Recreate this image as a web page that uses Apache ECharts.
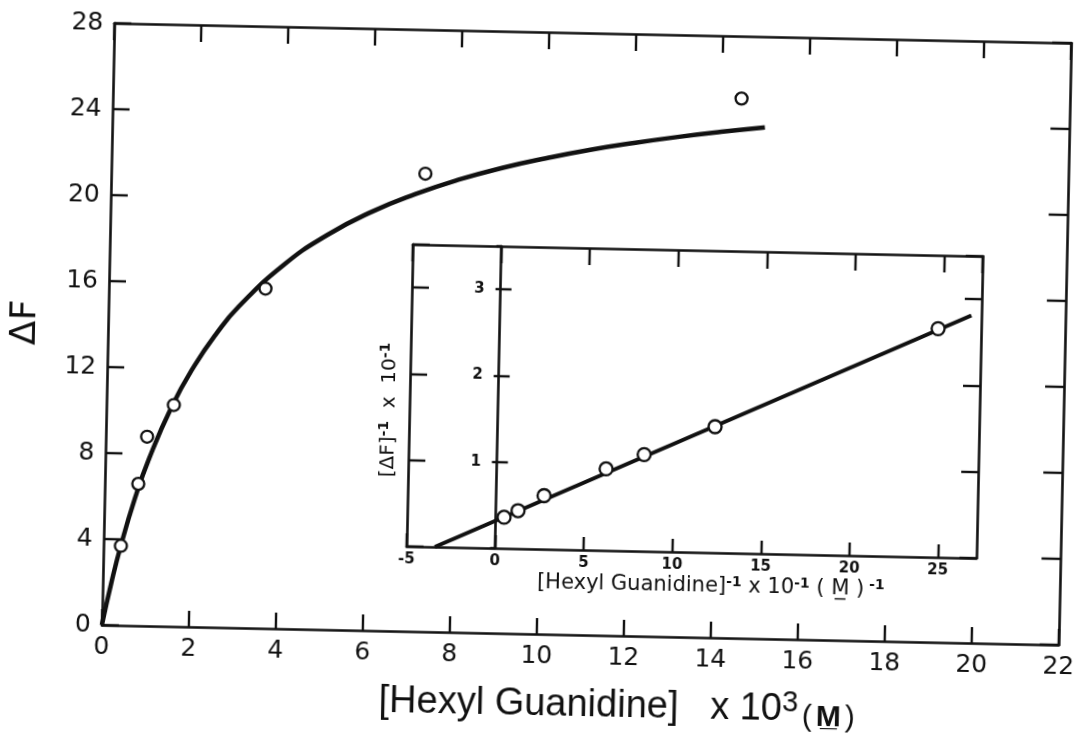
<!DOCTYPE html>
<html>
<head>
<meta charset="utf-8">
<script src="https://cdn.jsdelivr.net/npm/echarts@6/dist/echarts.min.js"></script>
<style>
  html, body { margin: 0; padding: 0; background: #fff; overflow: hidden; }
  #chart { width: 1084px; height: 733px; transform: rotate(1.19deg); transform-origin: 586px 334px; }
</style>
</head>
<body>
<div id="chart"></div>
<script>
// Fluorescence change on titration with hexyl guanidine (concentration x 10^3 M)
const hexylConc = [0.40, 0.77, 0.95, 1.55, 3.6, 7.22, 14.45];
const deltaF    = [3.7, 6.6, 8.8, 10.3, 15.8, 21.3, 25.1];

// Saturation curve drawn through the titration points
const curveConc   = [0, 0.2, 0.4, 0.7, 1.0, 1.5, 2.0, 2.5, 3.0, 4.0, 5.0, 6.0, 7.0, 8.0, 9.0, 10, 11, 12, 13, 14, 15.0];
const curveDeltaF = [0, 1.99, 3.72, 5.92, 7.75, 10.21, 12.13, 13.68, 14.95, 16.91, 18.36, 19.47, 20.34, 21.06, 21.65, 22.14, 22.57, 22.93, 23.25, 23.53, 23.78];

// Double-reciprocal (inset) plot
const invConc   = [24.74, 12.27, 8.30, 6.17, 2.70, 1.25, 0.47];
const invDeltaF = [2.65, 1.46, 1.12, 0.945, 0.62, 0.44, 0.36];
const invLineX  = [-3.4, 26.6];
const invLineY  = [0.0, 2.81];

// Inset axis ranges
const INSET_X_MIN = -5, INSET_X_MAX = 27.17;
const INSET_Y_MAX = 3.5;

const INK = '#111';
const pairs = (xs, ys) => xs.map((x, i) => [x, ys[i]]);

const insetGrid = { left: 411, top: 248, width: 570, height: 302 };
// shift of the inset's vertical axis from the frame edge to x = 0
const zeroShift = -(0 - INSET_X_MIN) / (INSET_X_MAX - INSET_X_MIN) * insetGrid.width;

const frame = { show: true, onZero: false, lineStyle: { color: INK, width: 2.6 } };
const tickIn = (len) => ({ show: true, inside: true, length: len, lineStyle: { color: INK, width: 2.4 } });
const noLabel = { show: false };
const noSplit = { show: false };

const mainLabel = { color: INK, fontSize: 25, fontFamily: 'DejaVu Sans' };
const insetLabel = { color: INK, fontSize: 15, fontWeight: 'bold', fontFamily: 'DejaVu Sans' };
const supStyle = (size) => ({ fontSize: size, fontFamily: 'DejaVu Sans', fontWeight: 'bold', color: INK, verticalAlign: 'top', lineHeight: size });

const chart = echarts.init(document.getElementById('chart'), null, { renderer: 'canvas' });

chart.setOption({
  backgroundColor: '#fff',
  animation: false,
  grid: [
    { left: 106, top: 33, width: 962, height: 603 },
    insetGrid
  ],
  xAxis: [
    { // main, bottom
      type: 'value', gridIndex: 0, position: 'bottom', min: 0, max: 22, interval: 2,
      axisLine: frame, axisTick: tickIn(16), splitLine: noSplit,
      axisLabel: Object.assign({ margin: 10 }, mainLabel),
      name: '{a|[Hexyl Guanidine]   x 10}{s|3}{m|(}{b|M\u0332}{m|)}',
      nameLocation: 'middle', nameGap: 49,
      nameTextStyle: {
        padding: [0, 0, 0, 80],
        rich: {
          a: { fontSize: 38, fontFamily: 'Liberation Sans', color: INK, lineHeight: 44 },
          s: { fontSize: 29, fontFamily: 'Liberation Sans', color: INK, verticalAlign: 'top', lineHeight: 24 },
          m: { fontSize: 30, fontFamily: 'Liberation Sans', color: INK, verticalAlign: 'bottom', lineHeight: 30, padding: [0, 4, 0, 4] },
          b: { fontSize: 30, fontFamily: 'Liberation Sans', fontWeight: 'bold', color: INK, verticalAlign: 'bottom', lineHeight: 30 }
        }
      }
    },
    { // main, top frame
      type: 'value', gridIndex: 0, position: 'top', min: 0, max: 22, interval: 2,
      axisLine: frame, axisTick: tickIn(17), axisLabel: noLabel, splitLine: noSplit
    },
    { // inset, bottom
      type: 'value', gridIndex: 1, position: 'bottom', min: INSET_X_MIN, max: INSET_X_MAX, interval: 5,
      axisLine: frame, axisTick: tickIn(13), splitLine: noSplit,
      axisLabel: Object.assign({ margin: 6, showMaxLabel: false }, insetLabel),
      name: '[Hexyl Guanidine]{s|-1} x 10{s|-1} ( M\u0332 ){s| -1}',
      nameLocation: 'middle', nameGap: 21,
      nameTextStyle: {
        color: INK, fontSize: 21, fontFamily: 'DejaVu Sans', lineHeight: 24,
        padding: [0, 0, 0, 40],
        rich: { s: supStyle(14) }
      }
    },
    { // inset, top frame
      type: 'value', gridIndex: 1, position: 'top', min: INSET_X_MIN, max: INSET_X_MAX, interval: 5,
      axisLine: frame, axisTick: tickIn(17), axisLabel: noLabel, splitLine: noSplit
    }
  ],
  yAxis: [
    { // main, left
      type: 'value', gridIndex: 0, position: 'left', min: 0, max: 28, interval: 4,
      axisLine: frame, axisTick: tickIn(17), splitLine: noSplit,
      axisLabel: Object.assign({ margin: 11 }, mainLabel),
      name: '\u0394F', nameLocation: 'middle', nameRotate: 90, nameGap: 64,
      nameTextStyle: { color: INK, fontSize: 36, fontFamily: 'DejaVu Sans' }
    },
    { // main, right frame
      type: 'value', gridIndex: 0, position: 'right', min: 0, max: 28, interval: 4,
      axisLine: frame, axisTick: tickIn(19), axisLabel: noLabel, splitLine: noSplit
    },
    { // inset, left frame
      type: 'value', gridIndex: 1, position: 'left', min: 0, max: INSET_Y_MAX, interval: 1,
      axisLine: frame, axisTick: tickIn(17), axisLabel: noLabel, splitLine: noSplit,
      name: '[\u0394F]{s|-1}  x  10{s|-1}', nameLocation: 'middle', nameRotate: 90, nameGap: 8,
      nameTextStyle: {
        color: INK, fontSize: 20, fontFamily: 'DejaVu Sans', lineHeight: 24,
        padding: [0, 30, 0, 0],
        rich: { s: supStyle(14) }
      }
    },
    { // inset, vertical axis through x = 0
      type: 'value', gridIndex: 1, position: 'left', offset: zeroShift, min: 0, max: INSET_Y_MAX, interval: 1,
      axisLine: { show: true, onZero: false, lineStyle: { color: INK, width: 2.6 } },
      axisTick: tickIn(11), splitLine: noSplit,
      axisLabel: Object.assign({ margin: 16, showMinLabel: false, showMaxLabel: false }, insetLabel)
    },
    { // inset, short outer tick stubs on the x = 0 axis
      type: 'value', gridIndex: 1, position: 'left', offset: zeroShift, min: 0, max: INSET_Y_MAX, interval: 1,
      axisLine: { show: false, onZero: false },
      axisTick: { show: true, inside: false, length: 5, lineStyle: { color: INK, width: 2.4 } },
      axisLabel: noLabel, splitLine: noSplit
    },
    { // inset, right frame
      type: 'value', gridIndex: 1, position: 'right', min: 0, max: INSET_Y_MAX, interval: 1,
      axisLine: frame, axisTick: tickIn(17), axisLabel: noLabel, splitLine: noSplit
    }
  ],
  series: [
    {
      type: 'line', xAxisIndex: 0, yAxisIndex: 0, data: pairs(curveConc, curveDeltaF),
      smooth: true, showSymbol: false, lineStyle: { color: INK, width: 4.5 }, z: 2
    },
    {
      type: 'scatter', xAxisIndex: 0, yAxisIndex: 0, data: pairs(hexylConc, deltaF),
      symbol: 'circle', symbolSize: 12,
      itemStyle: { color: '#fff', borderColor: INK, borderWidth: 2.3, opacity: 1 }, z: 3
    },
    {
      type: 'line', xAxisIndex: 2, yAxisIndex: 2, data: pairs(invLineX, invLineY),
      showSymbol: false, lineStyle: { color: INK, width: 4 }, z: 2
    },
    {
      type: 'scatter', xAxisIndex: 2, yAxisIndex: 2, data: pairs(invConc, invDeltaF),
      symbol: 'circle', symbolSize: 13,
      itemStyle: { color: '#fff', borderColor: INK, borderWidth: 2.3, opacity: 1 }, z: 3
    }
  ]
});
</script>
</body>
</html>
